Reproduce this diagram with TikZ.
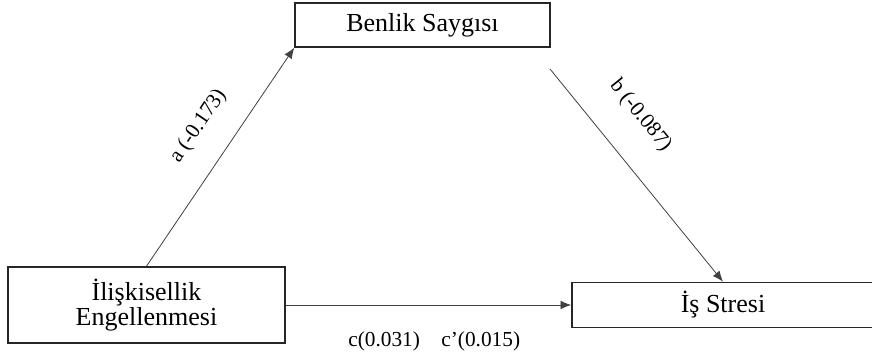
\documentclass[tikz,border=0pt]{standalone}
\usepackage{fontspec}
\setmainfont{Liberation Serif}
\usetikzlibrary{arrows,arrows.meta,positioning}
\definecolor{linegray}{RGB}{64,64,64}

\begin{document}
\begin{tikzpicture}[x=0.75pt,y=-0.75pt]

   \tikzstyle{every edge}=[->,>={Latex[length=8pt,width=6.5pt]},draw=linegray,line width=0.6pt]
   \tikzstyle{box}=[draw=black!85,line width=1.2pt,inner sep=0pt,align=center,font=\fontsize{19.5}{17.5}\selectfont]
   \tikzstyle{coef}=[inner sep=0pt,text=black,font=\fontsize{16}{19}\selectfont]

   \useasboundingbox (0,0) rectangle (872,357);

   \node[box, minimum width=207.75pt, minimum height=57pt] (IE) at (146.5,305) {İlişkisellik\\Engellenmesi};
   \node[box, minimum width=191.25pt, minimum height=33pt] (BS) at (422.5,25) {Benlik Saygısı};
   \node[box, minimum width=226.5pt, minimum height=33.75pt] (IS) at (723,305) {İş Stresi};
   \coordinate (BSout) at (550,69);

   \path (IE.north) edge node[coef, pos=0.55, sloped, above=19pt] {a (-0.173)} (BS.south west);
   \path (BSout) edge node[coef, pos=0.34, sloped, above=23pt] {b (-0.087)} (IS.north);
   \path (IE.east) edge node[coef, pos=0.52, below=20pt] {c(0.031)\quad c’(0.015)} (IS.west);
 \end{tikzpicture}
\end{document}
